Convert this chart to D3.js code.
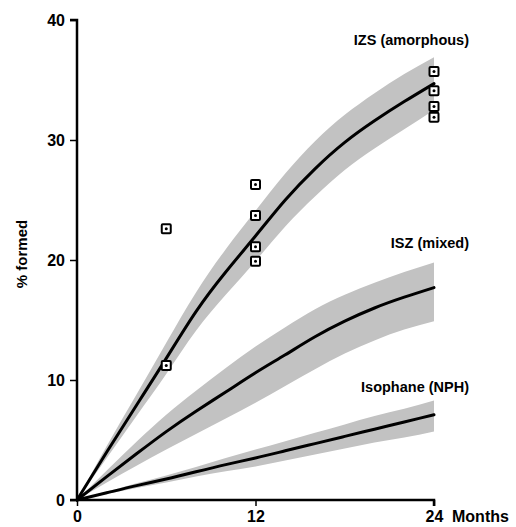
<!DOCTYPE html>
<html><head><meta charset="utf-8">
<script src="https://cdn.jsdelivr.net/npm/d3@7"></script>
<style>body{margin:0;background:#fff}svg{display:block}text{font-family:"Liberation Sans",Arial,Helvetica,sans-serif}</style>
</head><body>
<svg id="chart" width="516" height="527"></svg>
<script>
const months = [0,2,4,6,8,10,12,14,16,18,20,22,24];
const izsMean = [0,4.0,7.9,11.8,15.7,19.0,22.0,25.0,27.6,29.8,31.6,33.2,34.7];
const izsLow  = [0,3.5,7.0,10.5,14.1,17.1,19.9,22.8,25.3,27.5,29.3,30.9,32.5];
const izsHigh = [0,4.5,8.8,13.1,17.3,20.9,24.1,27.2,29.9,32.1,33.9,35.5,36.9];
const iszMean = [0,1.95,3.85,5.7,7.4,9.0,10.6,12.1,13.6,14.9,16.0,16.9,17.7];
const iszLow  = [0,1.45,2.85,4.2,5.5,6.8,8.1,9.5,10.9,12.2,13.3,14.2,14.9];
const iszHigh = [0,2.45,4.85,7.1,9.1,11.0,12.8,14.4,15.9,17.1,18.1,19.0,19.8];
const nphMean = [0,0.6,1.2,1.75,2.35,2.95,3.5,4.1,4.7,5.3,5.9,6.5,7.1];
const nphLow  = [0,0.5,1.0,1.45,1.95,2.4,2.8,3.3,3.8,4.3,4.8,5.2,5.7];
const nphHigh = [0,0.7,1.4,2.05,2.75,3.5,4.2,4.9,5.6,6.3,7.0,7.6,8.3];
const obsMonths = [6,6,12,12,12,12,24,24,24,24];
const obsValues = [22.6,11.2,26.3,23.7,21.1,19.9,35.7,34.1,32.8,31.9];
const seriesNames = ["IZS (amorphous)","ISZ (mixed)","Isophane (NPH)"];
const xTicks = [0,12,24];
const yTicks = [0,10,20,30,40];
const xUnit = "Months";
const yTitle = "% formed";

const svg = d3.select("#chart");
const x = d3.scaleLinear().domain([0,24]).range([77,434]);
const y = d3.scaleLinear().domain([0,40]).range([500,20]);

const series = [
  {name:seriesNames[0], mean:izsMean, low:izsLow, high:izsHigh},
  {name:seriesNames[1], mean:iszMean, low:iszLow, high:iszHigh},
  {name:seriesNames[2], mean:nphMean, low:nphLow, high:nphHigh}
];

const area = d3.area().x(d=>x(d.m)).y0(d=>y(d.lo)).y1(d=>y(d.hi)).curve(d3.curveNatural);
const line = d3.line().x(d=>x(d.m)).y(d=>y(d.v)).curve(d3.curveNatural);

series.forEach(s=>{
  const pts = months.map((m,i)=>({m, v:s.mean[i], lo:s.low[i], hi:s.high[i]}));
  svg.append("path").datum(pts).attr("d",area).attr("fill","#c2c2c2");
});
series.forEach(s=>{
  const pts = months.map((m,i)=>({m, v:s.mean[i]}));
  svg.append("path").datum(pts).attr("d",line).attr("fill","none").attr("stroke","#000").attr("stroke-width",3).attr("stroke-linecap","round");
});

// axes
const xAxis = d3.axisBottom(x).tickValues(xTicks).tickSize(6).tickPadding(5).tickFormat(d3.format("d"));
const yAxis = d3.axisLeft(y).tickValues(yTicks).tickSize(7).tickPadding(5).tickFormat(d3.format("d"));
const gx = svg.append("g").attr("transform","translate(0,500)").call(xAxis);
const gy = svg.append("g").attr("transform","translate(77,0)").call(yAxis);
[gx,gy].forEach(g=>{
  g.select(".domain").attr("stroke","#000").attr("stroke-width",2.5);
  g.selectAll(".tick line").attr("stroke","#000").attr("stroke-width",1.5);
  g.selectAll(".tick text").attr("fill","#000").style("font-size","16px").style("font-weight","bold").style("font-family","'Liberation Sans',Arial,sans-serif");
});
gx.select(".domain").attr("d","M77,0H434V6");
gy.select(".domain").attr("d","M-7,20H0V500H-7");

svg.append("text").attr("x",452).attr("y",511).attr("dy","0.71em").text(xUnit)
  .style("font-size","16px").style("font-weight","bold");

svg.append("text").attr("transform","translate(27,254) rotate(-90)").attr("text-anchor","middle")
  .text(yTitle).style("font-size","15px").style("font-weight","bold");

// series labels
const labelPos = [[469,45],[469,248],[469,392]];
seriesNames.forEach((n,i)=>{
  svg.append("text").attr("x",labelPos[i][0]).attr("y",labelPos[i][1]).attr("text-anchor","end")
    .text(n).style("font-size","14.5px").style("font-weight","bold");
});

// observed points
const obs = obsMonths.map((m,i)=>({m, v:obsValues[i]}));
const g = svg.append("g");
g.selectAll("rect").data(obs).join("rect")
  .attr("x",d=>x(d.m)-4.5).attr("y",d=>y(d.v)-4.5).attr("width",9).attr("height",9)
  .attr("rx",1).attr("fill","#fff").attr("stroke","#000").attr("stroke-width",2);
g.selectAll("circle").data(obs).join("circle")
  .attr("cx",d=>x(d.m)).attr("cy",d=>y(d.v)).attr("r",1.5).attr("fill","#000");
</script>
</body></html>
